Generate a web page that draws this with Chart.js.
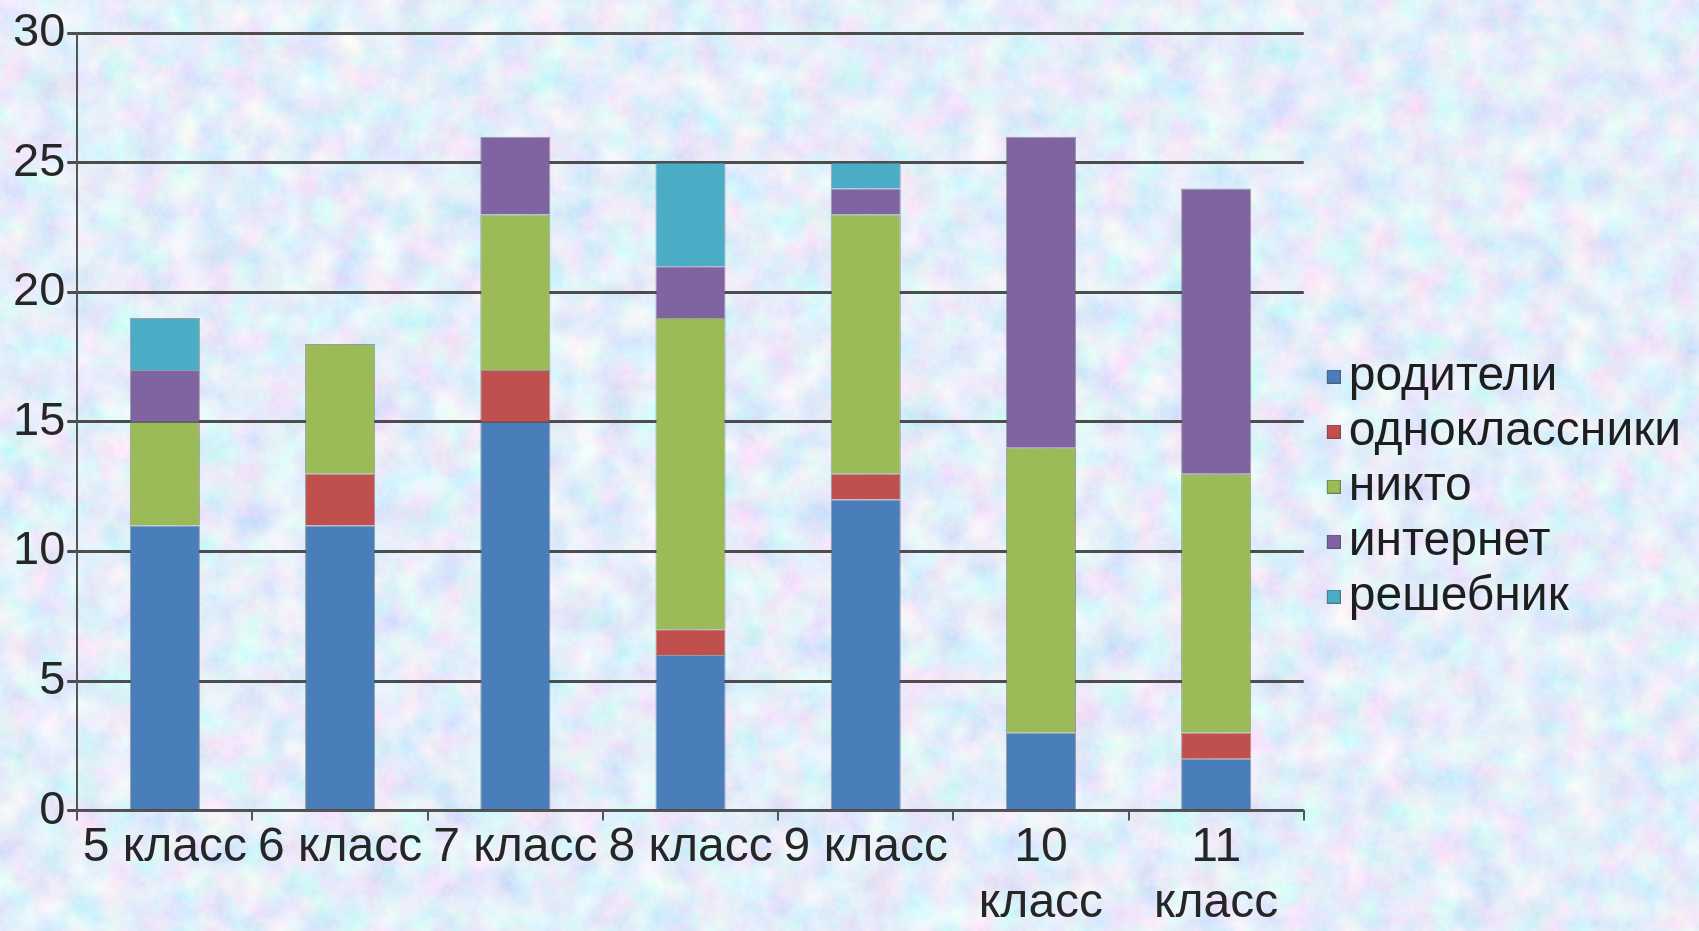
<!DOCTYPE html>
<html lang="ru">
<head>
    <meta charset="UTF-8">
    <script src="https://cdn.jsdelivr.net/npm/chart.js"></script>
    <title>Кто помогает с домашним заданием</title>
    <style>
        html, body { margin: 0; padding: 0; }
        body { width: 1699px; height: 931px; overflow: hidden; background-color: #c6d7f3; }
        canvas { display: block; }
    </style>
</head>
<body>
    <canvas id="chart" width="1699" height="931"></canvas>

    <script>
    // categories (10 and 11 wrap onto two lines like in the original)
    const classes = ['5 класс', '6 класс', '7 класс', '8 класс', '9 класс', ['10', 'класс'], ['11', 'класс']];

    const seriesNames = ['родители', 'одноклассники', 'никто', 'интернет', 'решебник'];
    const roditeli      = [11, 11, 15, 6, 12, 3, 2];
    const odnoklassniki = [0, 2, 2, 1, 1, 0, 1];
    const nikto         = [4, 5, 6, 12, 10, 11, 10];
    const internet      = [2, 0, 3, 2, 1, 12, 11];
    const reshebnik     = [2, 0, 0, 4, 1, 0, 0];

    const yTicks = [0, 5, 10, 15, 20, 25, 30];

    const colors = ['#4a7ebb', '#c0504d', '#9bbb59', '#8064a2', '#4bacc6'];

    // mottled paper background
    const svg = `<svg xmlns='http://www.w3.org/2000/svg' width='1699' height='931'>
      <filter id='a'><feTurbulence type='fractalNoise' baseFrequency='0.03' numOctaves='4' seed='7'/>
        <feColorMatrix type='matrix' values='0.6 0 0 0 0.47  0 0.4 0 0 0.65  0 0 0.14 0 0.88  0 0 0 0 1'/></filter>
      <filter id='b'><feTurbulence type='fractalNoise' baseFrequency='0.22' numOctaves='2' seed='3'/>
        <feColorMatrix type='matrix' values='0 0 0 0 1  0 0 0 0 1  0 0 0 0 1  0 0 1.3 0 -0.5'/></filter>
      <rect width='100%' height='100%' filter='url(#a)'/>
      <rect width='100%' height='100%' filter='url(#b)' opacity='0.28'/>
    </svg>`;
    document.body.style.backgroundImage = `url("data:image/svg+xml,${encodeURIComponent(svg)}")`;

    // legend marker: small square pushed to the right so it sits close to the text
    function legendMarker(color) {
        const c = document.createElement('canvas');
        c.width = 46;
        c.height = 14;
        const g = c.getContext('2d');
        g.fillStyle = color;
        g.fillRect(32, 0, 14, 14);
        g.strokeStyle = 'rgba(70, 70, 70, 0.5)';
        g.lineWidth = 1;
        g.strokeRect(32.5, 0.5, 13, 13);
        return c;
    }

    const allSeries = [roditeli, odnoklassniki, nikto, internet, reshebnik];

    const ctx = document.getElementById('chart');
    new Chart(ctx, {
        type: 'bar',
        data: {
            labels: classes,
            datasets: allSeries.map((values, i) => ({
                label: seriesNames[i],
                data: values,
                backgroundColor: colors[i],
                borderColor: 'rgba(90, 90, 90, 0.55)',
                borderWidth: 1,
                pointStyle: legendMarker(colors[i]),
                barPercentage: 0.4,
                categoryPercentage: 1
            }))
        },
        options: {
            responsive: false,
            animation: false,
            layout: {
                padding: { top: 33, left: 11, right: 8, bottom: 0 }
            },
            plugins: {
                tooltip: { enabled: false },
                legend: {
                    position: 'right',
                    title: {
                        display: true,
                        text: '',
                        font: { size: 1 },
                        padding: { top: 0, bottom: 8 }
                    },
                    labels: {
                        usePointStyle: true,
                        pointStyleWidth: 14,
                        boxHeight: 14,
                        padding: 7,
                        color: '#1e1e1e',
                        font: { family: "'Liberation Sans', Arial, sans-serif", size: 48 }
                    }
                }
            },
            scales: {
                x: {
                    stacked: true,
                    offset: true,
                    border: { display: true, color: '#555', width: 2 },
                    grid: {
                        display: true,
                        drawOnChartArea: false,
                        drawTicks: true,
                        tickLength: 10,
                        color: '#555',
                        lineWidth: 2,
                        offset: true
                    },
                    ticks: {
                        autoSkip: false,
                        maxRotation: 0,
                        padding: 0,
                        color: '#262626',
                        font: { family: "'Liberation Sans', Arial, sans-serif", size: 48, lineHeight: 1.15 }
                    }
                },
                y: {
                    stacked: true,
                    min: yTicks[0],
                    max: yTicks[yTicks.length - 1],
                    afterBuildTicks: (axis) => { axis.ticks = yTicks.map(v => ({ value: v })); },
                    border: { display: true, color: '#555', width: 2 },
                    grid: {
                        color: '#4d4d4d',
                        lineWidth: 3,
                        tickLength: 10
                    },
                    ticks: {
                        padding: 2,
                        color: '#262626',
                        font: { family: "'Liberation Sans', Arial, sans-serif", size: 47 }
                    }
                }
            }
        }
    });
    </script>
</body>
</html>
